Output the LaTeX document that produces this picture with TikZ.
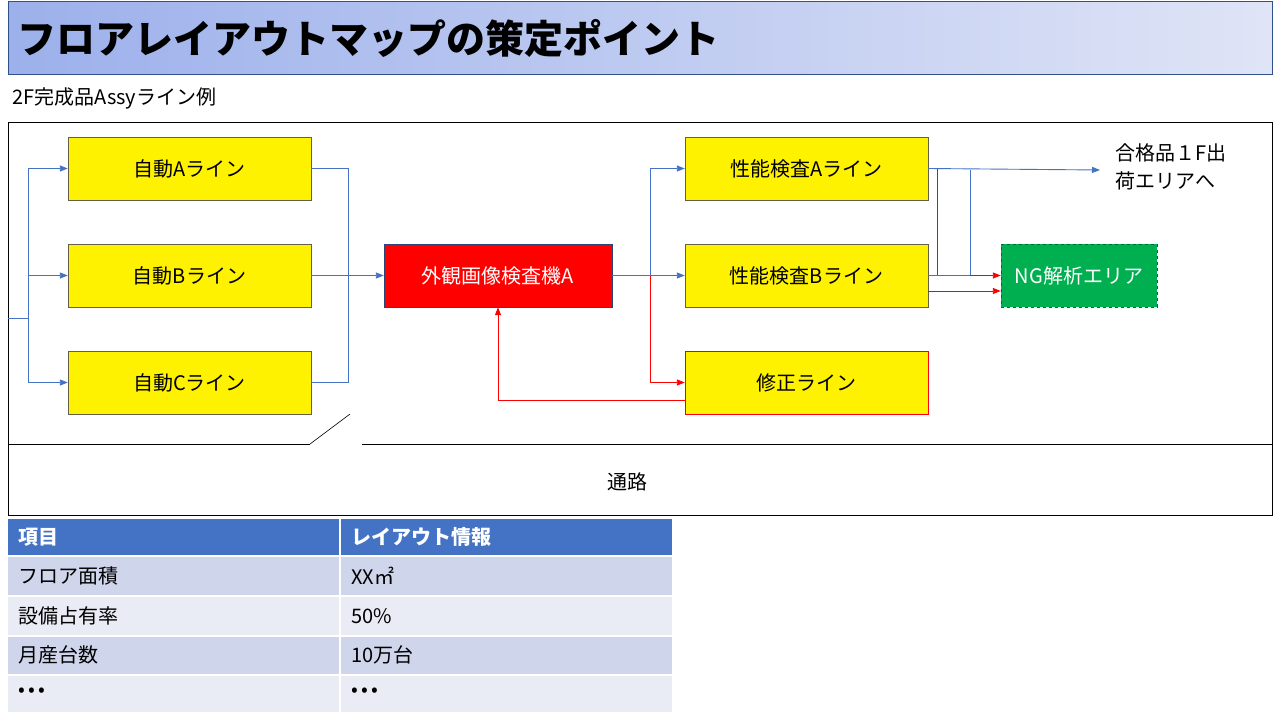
\documentclass[tikz,border=0pt]{standalone}
\usepackage{fontspec}
\setmainfont{Noto Sans CJK JP}
\usetikzlibrary{arrows.meta}
\definecolor{tblue}{HTML}{4472C4}
\definecolor{rowa}{HTML}{CFD5EA}
\definecolor{rowb}{HTML}{E9EBF5}
\definecolor{ngreen}{HTML}{00B050}
\definecolor{tl}{HTML}{9CB0EB}
\definecolor{tr}{HTML}{DFE4F6}
\tikzset{
 ybox/.style={draw=black!70!yellow, fill=yellow, minimum width=243pt, minimum height=63pt, inner sep=0pt, font=\fontsize{20}{22}\selectfont},
 bl/.style={draw=tblue, line width=0.9pt},
 rd/.style={draw=red, line width=0.9pt},
 arr/.style={-{Triangle[length=8pt,width=6pt]}},
 cell/.style={anchor=west, font=\fontsize{20}{22}\selectfont, inner sep=0pt},
}
\begin{document}
\begin{tikzpicture}[x=1pt,y=-1pt]
\useasboundingbox (0,0) rectangle (1280,720);
\fill[white] (0,0) rectangle (1280,720);
% title
\shade[left color=tl, right color=tr] (8,1) rectangle (1272,74);
\draw[draw=tblue!70!black, line width=0.8pt] (8,1) rectangle (1272,74);
\node[anchor=west, font=\fontsize{39}{44}\selectfont\bfseries, inner sep=0pt] (title) at (17,38) {フロアレイアウトマップの策定ポイント};
\node[anchor=west, font=\fontsize{20}{22}\selectfont, inner sep=0pt] (sub) at (12,98) {2F完成品Assyライン例};
% frame
\draw[line width=0.9pt] (8,122) rectangle (1272,515);
\draw[line width=0.9pt] (8,444) -- (310,444);
\draw[line width=0.9pt] (362,444) -- (1272,444);
\draw[line width=0.6pt] (310,444) -- (350,414);
\node[font=\fontsize{20}{22}\selectfont] (road) at (627,482) {通路};
% boxes
\node[ybox] (A) at (189.5,168.5) {自動Aライン};
\node[ybox] (B) at (189.5,275.5) {自動Bライン};
\node[ybox] (C) at (189.5,382.5) {自動Cライン};
\node[draw=tblue!60!black, fill=red, text=white, minimum width=228pt, minimum height=63pt, inner sep=0pt, font=\fontsize{20}{22}\selectfont] (V) at (498,275.5) {外観画像検査機A};
\node[ybox] (PA) at (806.5,168.5) {性能検査Aライン};
\node[ybox] (PB) at (806.5,275.5) {性能検査Bライン};
\node[ybox, draw=red] (R) at (806.5,382.5) {修正ライン};
\node[draw=ngreen!60!black, dashed, fill=ngreen, text=white, minimum width=156pt, minimum height=63pt, inner sep=0pt, font=\fontsize{20}{22}\selectfont] (NG) at (1079,275.5) {NG解析エリア};
\node[anchor=north west, align=left, inner sep=0pt, font=\fontsize{20}{28}\selectfont] (ok) at (1115,143) {合格品１F出\\荷エリアへ};
\coordinate (in) at (8,318);
\coordinate (okp) at (1100,170);
% left fan
\draw[bl] (in) -- (28,318);
\draw[bl,arr] (28,318) |- (A.west);
\draw[bl,arr] (28,318) |- (B.west);
\draw[bl,arr] (28,318) |- (C.west);
\draw[bl] (A.east) -| (348,275.5);
\draw[bl] (C.east) -| (348,275.5);
\draw[bl,arr] (B.east) -- (V.west);
% middle
\draw[bl,arr] (V.east) -- (PB.west);
\draw[bl,arr] (650,275.5) |- (PA.west);
\draw[rd,arr] (650,275.5) |- (R.west);
\draw[rd,arr] (R.west|-0,400) -| (V.south);
% right
\draw[rd] (PA.east) -| (937,275.5);
\draw[bl,arr] (PA.east) -- (okp);
\draw[bl] (970,170) -- (970,275.5);
\draw[bl] (PB.east) -- (970,275.5);
\draw[rd,arr] (970,275.5) -- (NG.west);
\draw[rd,arr] (928,291) -- (NG.west|-0,291);
% table
\fill[tblue] (8,519) rectangle (339,555);
\fill[tblue] (341,519) rectangle (672,555);
\foreach \y/\h/\c in {557/595/rowa,597/635/rowb,637/674/rowa,676/712/rowb}{
 \fill[\c] (8,\y) rectangle (339,\h);
 \fill[\c] (341,\y) rectangle (672,\h);
}
\node[cell, text=white, font=\fontsize{20}{22}\selectfont\bfseries] (h1) at (18,537) {項目};
\node[cell, text=white, font=\fontsize{20}{22}\selectfont\bfseries] (h2) at (351,537) {レイアウト情報};
\node[cell] (a1) at (18,576) {フロア面積};
\node[cell] (b1) at (351,576) {XX㎡};
\node[cell] (a2) at (18,616) {設備占有率};
\node[cell] (b2) at (351,616) {50\%};
\node[cell] (a3) at (18,655) {月産台数};
\node[cell] (b3) at (351,655) {10万台};
\node[cell] (a4) at (18,692) {•\,•\,•};
\node[cell] (b4) at (351,692) {•\,•\,•};
\end{tikzpicture}
\end{document}
